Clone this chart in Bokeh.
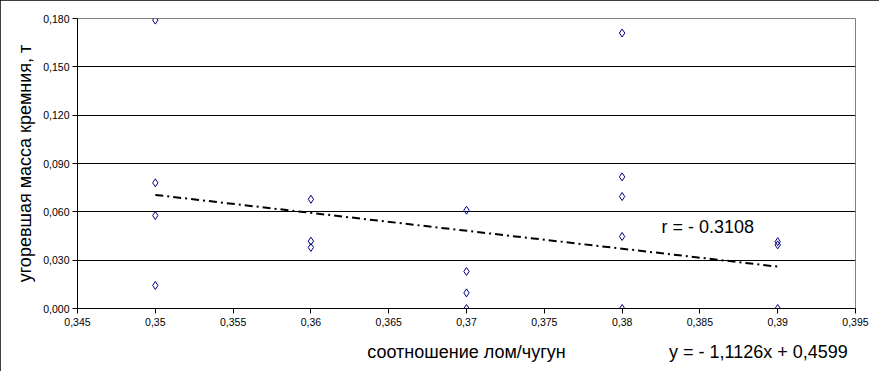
from bokeh.plotting import figure
from bokeh.models import Label, CustomJSTickFormatter, FixedTicker, Range1d, Div
from bokeh.layouts import column
from bokeh.embed import file_html
from bokeh.resources import INLINE

# data
x_vals = [0.35, 0.35, 0.35, 0.35,
          0.36, 0.36, 0.36,
          0.37, 0.37, 0.37, 0.37,
          0.38, 0.38, 0.38, 0.38, 0.38,
          0.39, 0.39, 0.39]
y_vals = [0.179, 0.078, 0.0577, 0.0143,
          0.0678, 0.0418, 0.0379,
          0.061, 0.023, 0.0097, 0.0,
          0.171, 0.0817, 0.0695, 0.0447, 0.0,
          0.0415, 0.0395, 0.0]
trend_slope = -1.1126
trend_intercept = 0.4599
trend_x = [0.35, 0.39]
x_ticks = [0.345, 0.35, 0.355, 0.36, 0.365, 0.37, 0.375, 0.38, 0.385, 0.39, 0.395]
y_ticks = [0.0, 0.03, 0.06, 0.09, 0.12, 0.15, 0.18]
x_label = "соотношение лом/чугун"
y_label = "угоревшая масса кремния, т"
eq_text = "y = - 1,1126x + 0,4599"
r_text = "r = - 0.3108"

FONT = "Liberation Sans"

p = figure(width=879, height=371, output_backend="svg", toolbar_location=None,
           x_range=Range1d(0.345, 0.395), y_range=Range1d(0.0, 0.18),
           min_border_left=77, min_border_right=24, min_border_top=18, min_border_bottom=63)
p.background_fill_color = "white"
p.border_fill_color = "white"
p.outline_line_color = "#808080"
p.outline_line_width = 1

# axes
p.xaxis.ticker = FixedTicker(ticks=x_ticks)
p.yaxis.ticker = FixedTicker(ticks=y_ticks)
p.xaxis.formatter = CustomJSTickFormatter(code="return parseFloat(tick.toFixed(3)).toString().replace('.', ',');")
p.yaxis.formatter = CustomJSTickFormatter(code="return tick.toFixed(3).replace('.', ',');")
for ax in (p.xaxis[0], p.yaxis[0]):
    ax.axis_line_color = "black"
    ax.axis_line_width = 1
    ax.major_tick_line_color = "black"
    ax.major_tick_out = 5
    ax.major_tick_in = 0
    ax.minor_tick_line_color = None
    ax.major_label_text_font = FONT
    ax.major_label_text_font_size = "10.5px"
    ax.major_label_text_color = "black"
    ax.axis_label_text_font = FONT
    ax.axis_label_text_font_size = "18px"
    ax.axis_label_text_font_style = "normal"
    ax.axis_label_text_color = "black"
p.xaxis.axis_label = x_label
p.yaxis.axis_label = y_label
p.xaxis.major_label_standoff = 4
p.yaxis.major_label_standoff = 3
p.xaxis.axis_label_standoff = 13
p.yaxis.axis_label_standoff = 5

p.xgrid.grid_line_color = None
p.ygrid.ticker = FixedTicker(ticks=y_ticks)
p.ygrid.grid_line_color = "black"
p.ygrid.grid_line_width = 1

# trend line
trend_y = [trend_slope * x + trend_intercept for x in trend_x]
p.line(trend_x, trend_y, line_color="black", line_width=2, line_dash="8 4 2 4")

# points
p.scatter(x_vals, y_vals, marker="diamond", size=8, fill_color=None,
          line_color="#000080", line_width=1)

# correlation annotation
p.add_layout(Label(x=0.3855, y=0.0507, text=r_text, text_font=FONT,
                   text_font_size="18px", text_color="black",
                   text_align="center", text_baseline="middle"))

# regression equation, below the plot area on the x-label line
eq = Div(text=eq_text, width=200, height=20, margin=(-29, 0, 9, 669),
         styles={"font-family": FONT, "font-size": "18px", "color": "black",
                 "white-space": "nowrap", "line-height": "20px"})

layout = column(p, eq, spacing=0, width=879, height=371)
layout.styles = {"outline": "1px solid black", "outline-offset": "-1px"}
open("out.html", "w").write(file_html(layout, INLINE))
